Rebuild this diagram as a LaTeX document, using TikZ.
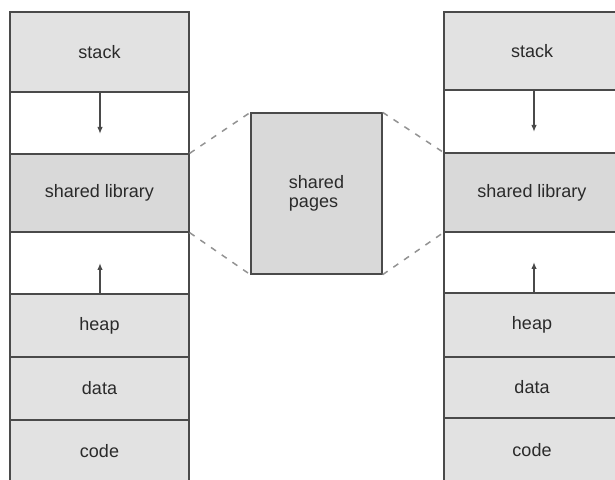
\documentclass[tikz,border=0pt]{standalone}
\usepackage{fontspec}
\setmainfont{Liberation Sans}
\usetikzlibrary{arrows.meta}
\definecolor{rowgray}{HTML}{E2E2E2}
\definecolor{libgray}{HTML}{D9D9D9}
\definecolor{edge}{HTML}{4A4A4A}
\definecolor{txt}{HTML}{2A2A2A}
\tikzset{
  cellbase/.style={draw=edge, line width=1.3pt, inner sep=0pt, text=txt, font=\fontsize{18}{21}\selectfont},
  graycell/.style={cellbase, fill=rowgray},
  libcell/.style={cellbase, fill=libgray},
  whitecell/.style={cellbase, fill=white},
  growarrow/.style={draw=edge, line width=1.5pt, -{Latex[length=7pt,width=5.5pt]}},
  sharelink/.style={draw=gray!85, line width=1.5pt, dash pattern=on 6pt off 7pt},
}
\begin{document}
\begin{tikzpicture}[x=1pt,y=1pt]
\useasboundingbox (0,0) rectangle (615,479);
\clip (0,0) rectangle (615,479);
% left column
\node[graycell, minimum width=179pt, minimum height=80pt] (Lstack) at (99.5,427) {stack};
\node[whitecell, minimum width=179pt, minimum height=62pt] (Lgap1) at (99.5,356) {};
\node[libcell, minimum width=179pt, minimum height=78pt] (Llib) at (99.5,286) {shared library};
\node[whitecell, minimum width=179pt, minimum height=62pt] (Lgap2) at (99.5,216) {};
\node[graycell, minimum width=179pt, minimum height=63pt] (Lheap) at (99.5,153.5) {heap};
\node[graycell, minimum width=179pt, minimum height=63pt] (Ldata) at (99.5,90.5) {data};
\node[graycell, minimum width=179pt, minimum height=62pt] (Lcode) at (99.5,28) {code};
\coordinate (Ldown) at (100,345);
\coordinate (Lup) at (100,216);
\draw[growarrow] ([xshift=0.5pt]Lstack.south) -- (Ldown);
\draw[growarrow] ([xshift=0.5pt]Lheap.north) -- (Lup);
% right column
\node[graycell, minimum width=176pt, minimum height=78pt] (Rstack) at (532,428) {stack};
\node[whitecell, minimum width=176pt, minimum height=63pt] (Rgap1) at (532,357.5) {};
\node[libcell, minimum width=176pt, minimum height=79pt] (Rlib) at (532,286.5) {shared library};
\node[whitecell, minimum width=176pt, minimum height=61pt] (Rgap2) at (532,216.5) {};
\node[graycell, minimum width=176pt, minimum height=64pt] (Rheap) at (532,154) {heap};
\node[graycell, minimum width=176pt, minimum height=61pt] (Rdata) at (532,91.5) {data};
\node[graycell, minimum width=176pt, minimum height=64pt] (Rcode) at (532,29) {code};
\coordinate (Rdown) at (534,347);
\coordinate (Rup) at (534,217);
\draw[growarrow] ([xshift=2pt]Rstack.south) -- (Rdown);
\draw[growarrow] ([xshift=2pt]Rheap.north) -- (Rup);
% shared pages
\node[libcell, minimum width=131pt, minimum height=161pt, align=left] (pages) at (316.5,285.5) {shared\\[-2pt]pages};
% dashed links
\draw[sharelink] (Llib.north east) -- (pages.north west);
\draw[sharelink] (Llib.south east) -- (pages.south west);
\draw[sharelink] (pages.north east) -- (Rlib.north west);
\draw[sharelink] (pages.south east) -- (Rlib.south west);
\end{tikzpicture}
\end{document}
